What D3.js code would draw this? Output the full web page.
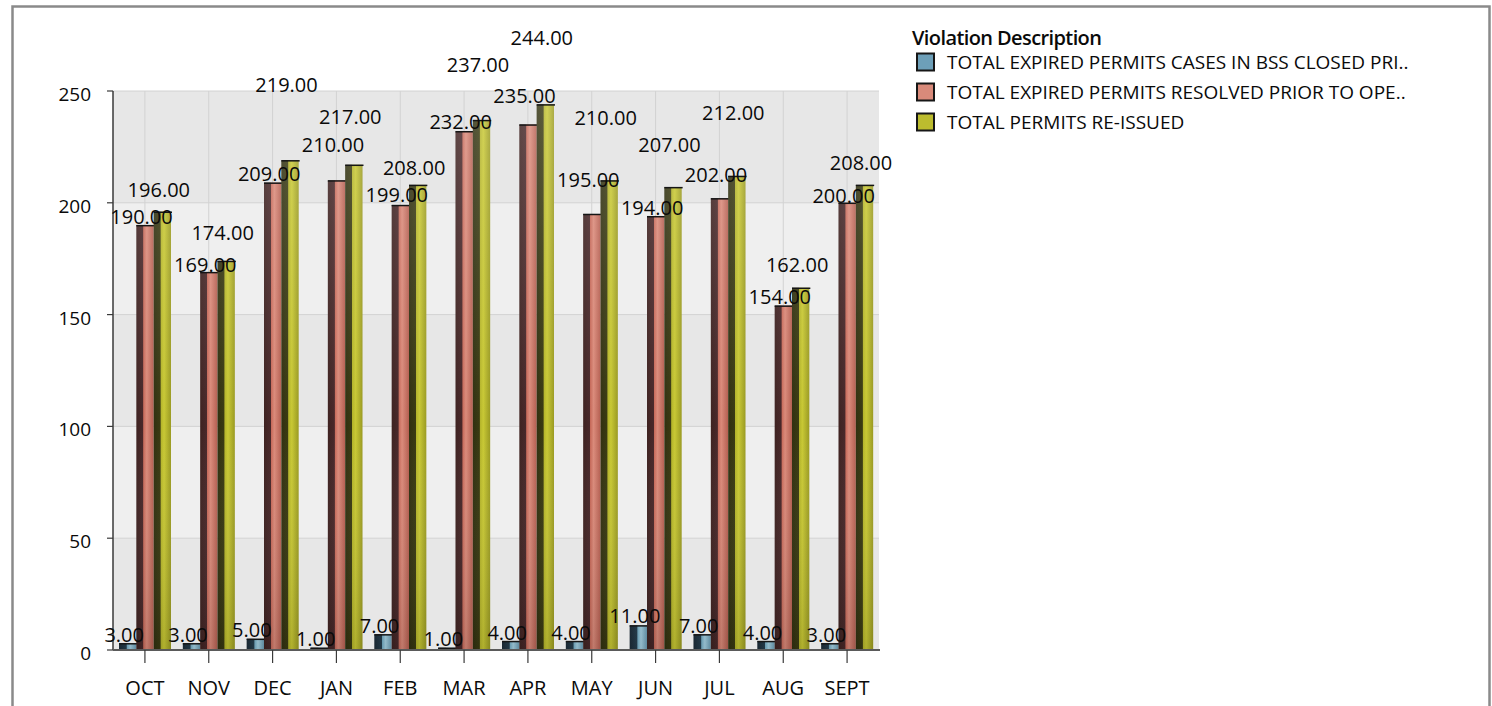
<!DOCTYPE html>
<html>
<head>
<meta charset="utf-8">
<script src="https://cdn.jsdelivr.net/npm/d3@7"></script>
<style>
  body { margin: 0; background: #fff; }
  text { font-family: "Open Sans", "Noto Sans", sans-serif; fill: #0a0a0a; }
</style>
</head>
<body>
<script>
// data
var months = ["OCT", "NOV", "DEC", "JAN", "FEB", "MAR", "APR", "MAY", "JUN", "JUL", "AUG", "SEPT"];
var closedInBss = [3, 3, 5, 1, 7, 1, 4, 4, 11, 7, 4, 3];
var resolvedPrior = [190, 169, 209, 210, 199, 232, 235, 195, 194, 202, 154, 200];
var reIssued = [196, 174, 219, 217, 208, 237, 244, 210, 207, 212, 162, 208];
var seriesNames = [
  "TOTAL EXPIRED PERMITS CASES IN BSS CLOSED PRI..",
  "TOTAL EXPIRED PERMITS RESOLVED PRIOR TO OPE..",
  "TOTAL PERMITS RE-ISSUED"
];
var yTicks = [0, 50, 100, 150, 200, 250];

// how far each value label sits above its bar (the original chart shuffles them to avoid overlap)
var liftBlue = [8.5, 8.5, 8.5, 8.5, 8.5, 8.5, 8.5, 8.5, 10, 8.5, 8.5, 8.5];
var liftRed = [8, 7.5, 8.7, 36, 10.5, 9, 29, 34.5, 8.5, 23, 9, 7];
var liftYellow = [22, 28, 75, 48, 17.5, 55.5, 67, 63, 42.5, 63.5, 23, 22.5];

var width = 1492, height = 706;
var plot = {left: 113, right: 879, top: 91, bottom: 650};
var fs = 20;

var svg = d3.select("body").append("svg")
  .attr("width", width).attr("height", height);

// gradients
var defs = svg.append("defs");
var grads = [
  {id: "gBlue", stops: [[0, "#1d2c38"], [0.42, "#263e4e"], [0.47, "#78b0c8"], [0.65, "#a6d2e4"], [1, "#6a9cb4"]]},
  {id: "gRed", stops: [[0, "#3e2220"], [0.38, "#48282a"], [0.42, "#c66a5a"], [0.6, "#da8a7a"], [1, "#b45e50"]]},
  {id: "gYel", stops: [[0, "#303010"], [0.38, "#3a3a12"], [0.42, "#b4b42a"], [0.6, "#c8c834"], [1, "#9a9a22"]]}
];
grads.forEach(function(g) {
  var lg = defs.append("linearGradient").attr("id", g.id)
    .attr("x1", 0).attr("x2", 1).attr("y1", 0).attr("y2", 0);
  g.stops.forEach(function(s) {
    lg.append("stop").attr("offset", s[0]).attr("stop-color", s[1]);
  });
});
var shade = defs.append("linearGradient").attr("id", "shade")
  .attr("gradientUnits", "userSpaceOnUse")
  .attr("x1", 0).attr("x2", 0).attr("y1", plot.top).attr("y2", plot.bottom);
shade.append("stop").attr("offset", 0).attr("stop-color", "#fff").attr("stop-opacity", 0.18);
shade.append("stop").attr("offset", 0.6).attr("stop-color", "#fff").attr("stop-opacity", 0);
shade.append("stop").attr("offset", 1).attr("stop-color", "#000").attr("stop-opacity", 0.12);

// frame
svg.append("rect")
  .attr("x", 12.5).attr("y", 6.5).attr("width", 1477).attr("height", 740)
  .attr("fill", "none").attr("stroke", "#8a8a8a").attr("stroke-width", 2.5);

// scales
var x = d3.scaleBand().domain(months).range([plot.left, plot.right]);
var y = d3.scaleLinear().domain([0, 250]).range([plot.bottom, plot.top]);
var sub = d3.scaleBand().domain([0, 1, 2]).range([6, 58]);

// alternating bands
var g = svg.append("g");
for (var i = 0; i < yTicks.length - 1; i++) {
  g.append("rect")
    .attr("x", plot.left).attr("width", plot.right - plot.left)
    .attr("y", y(yTicks[i + 1])).attr("height", y(yTicks[i]) - y(yTicks[i + 1]))
    .attr("fill", i % 2 == 0 ? "#e7e7e7" : "#efefef");
}

// grid lines
g.selectAll(".hg").data(yTicks).enter().append("line")
  .attr("x1", plot.left).attr("x2", plot.right)
  .attr("y1", function(d) { return y(d); }).attr("y2", function(d) { return y(d); })
  .attr("stroke", "#d2d2d2");
g.selectAll(".vg").data(months).enter().append("line")
  .attr("x1", function(d) { return x(d) + x.bandwidth() / 2; })
  .attr("x2", function(d) { return x(d) + x.bandwidth() / 2; })
  .attr("y1", plot.top).attr("y2", plot.bottom)
  .attr("stroke", "#d2d2d2");

// bars
var series = [
  {vals: closedInBss, fill: "url(#gBlue)", lift: liftBlue},
  {vals: resolvedPrior, fill: "url(#gRed)", lift: liftRed},
  {vals: reIssued, fill: "url(#gYel)", lift: liftYellow}
];
var bw = sub.bandwidth();
series.forEach(function(s, si) {
  var rows = months.map(function(m, mi) { return {m: m, v: s.vals[mi], lift: s.lift[mi]}; });
  var bg = svg.append("g");
  bg.selectAll("rect.bar").data(rows).enter().append("rect")
    .attr("x", function(d) { return x(d.m) + sub(si); })
    .attr("y", function(d) { return y(d.v); })
    .attr("width", bw)
    .attr("height", function(d) { return plot.bottom - y(d.v); })
    .attr("fill", s.fill);
  bg.selectAll("rect.sh").data(rows).enter().append("rect")
    .attr("x", function(d) { return x(d.m) + sub(si); })
    .attr("y", function(d) { return y(d.v); })
    .attr("width", bw)
    .attr("height", function(d) { return plot.bottom - y(d.v); })
    .attr("fill", "url(#shade)");
  // dark top edge
  bg.selectAll("line.cap").data(rows).enter().append("line")
    .attr("x1", function(d) { return x(d.m) + sub(si); })
    .attr("x2", function(d) { return x(d.m) + sub(si) + bw + 1; })
    .attr("y1", function(d) { return y(d.v) + 0.5; })
    .attr("y2", function(d) { return y(d.v) + 0.5; })
    .attr("stroke", "#151515").attr("stroke-width", 1.5);
  s.rows = rows;
});

// axes
svg.append("line")
  .attr("x1", plot.left).attr("x2", plot.left).attr("y1", plot.top).attr("y2", plot.bottom)
  .attr("stroke", "#3a3a3a").attr("stroke-width", 1.5);
svg.append("line")
  .attr("x1", plot.left).attr("x2", plot.right + 1).attr("y1", plot.bottom).attr("y2", plot.bottom)
  .attr("stroke", "#5a5a5a").attr("stroke-width", 2);

svg.selectAll(".yt").data(yTicks).enter().append("line")
  .attr("x1", plot.left - 6).attr("x2", plot.left)
  .attr("y1", function(d) { return y(d); }).attr("y2", function(d) { return y(d); })
  .attr("stroke", "#3a3a3a").attr("stroke-width", 1.2);
svg.selectAll(".yl").data(yTicks).enter().append("text")
  .attr("x", 91).attr("y", function(d) { return y(d) + 10; })
  .attr("text-anchor", "end").attr("font-size", 19)
  .text(function(d) { return d; });

svg.selectAll(".xt").data(months).enter().append("line")
  .attr("x1", function(d) { return x(d) + x.bandwidth() / 2; })
  .attr("x2", function(d) { return x(d) + x.bandwidth() / 2; })
  .attr("y1", plot.bottom).attr("y2", plot.bottom + 13)
  .attr("stroke", "#3a3a3a").attr("stroke-width", 1.2);
svg.selectAll(".xl").data(months).enter().append("text")
  .attr("x", function(d) { return x(d) + x.bandwidth() / 2; })
  .attr("y", 695)
  .attr("text-anchor", "middle").attr("font-size", fs)
  .text(function(d) { return d; });

// value labels on top of everything
series.forEach(function(s, si) {
  svg.append("g").selectAll("text").data(s.rows).enter().append("text")
    .attr("x", function(d) { return x(d.m) + sub(si) + bw / 2 - 3.5; })
    .attr("y", function(d) { return y(d.v) - d.lift + 7.1; })
    .attr("text-anchor", "middle").attr("font-size", fs)
    .text(function(d) { return d3.format(".2f")(d.v); });
});

// legend
var legendFills = ["#6d9fb8", "#d98a7a", "#bcbc2e"];
var lg = svg.append("g");
lg.append("text").attr("x", 912).attr("y", 45)
  .attr("font-size", fs).attr("font-weight", 600)
  .attr("letter-spacing", -0.6)
  .text("Violation Description");
lg.selectAll("rect").data(seriesNames).enter().append("rect")
  .attr("x", 917).attr("y", function(d, i) { return 53.5 + i * 30; })
  .attr("width", 17).attr("height", 17)
  .attr("fill", function(d, i) { return legendFills[i]; })
  .attr("stroke", "#161616").attr("stroke-width", 2);
lg.selectAll("text.it").data(seriesNames).enter().append("text")
  .attr("x", 947).attr("y", function(d, i) { return 69 + i * 30; })
  .attr("font-size", 19)
  .text(function(d) { return d; });
</script>
</body>
</html>
